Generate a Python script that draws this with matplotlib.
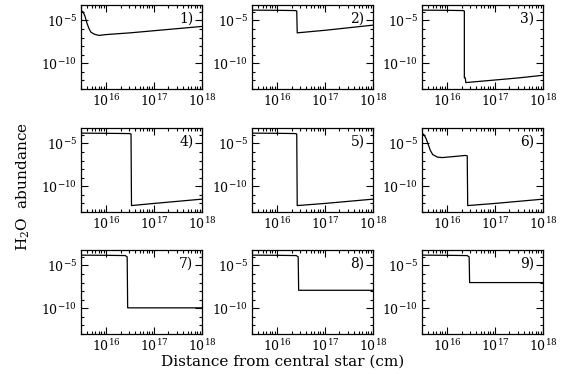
import numpy as np
import matplotlib
matplotlib.use("Agg")
import matplotlib.pyplot as plt
from matplotlib.ticker import FixedLocator, LogLocator, NullFormatter

plt.rcParams['font.family'] = ['DejaVu Serif']
plt.rcParams['mathtext.fontset'] = 'dejavuserif'

# log10 of distance (cm) and log10 of H2O abundance
x1 = [15.48, 15.52, 15.56, 15.60, 15.64, 15.68, 15.75, 15.85, 16.0, 16.5, 17.0, 17.5, 18.0]
y1 = [-3.85, -4.0, -4.5, -5.3, -5.9, -6.35, -6.6, -6.75, -6.65, -6.45, -6.2, -5.95, -5.7]

x2 = [15.48, 16.0, 16.38, 16.41, 16.42, 17.0, 17.5, 18.0]
y2 = [-3.8, -3.82, -3.85, -3.9, -6.45, -6.15, -5.85, -5.55]

x3 = [15.48, 16.0, 16.33, 16.36, 16.36, 16.38, 16.39, 17.0, 17.5, 18.0]
y3 = [-3.8, -3.82, -3.85, -3.9, -11.7, -11.7, -12.25, -11.95, -11.7, -11.4]

x4 = [15.48, 16.0, 16.49, 16.52, 16.53, 17.0, 17.5, 18.0]
y4 = [-3.8, -3.82, -3.85, -3.9, -12.25, -12.0, -11.75, -11.5]

x5 = [15.48, 16.0, 16.38, 16.41, 16.42, 17.0, 17.5, 18.0]
y5 = [-3.8, -3.82, -3.85, -3.9, -12.25, -12.0, -11.75, -11.5]

x6 = [15.48, 15.52, 15.56, 15.60, 15.65, 15.70, 15.80, 15.90, 16.0, 16.2, 16.38, 16.42, 16.43, 17.0, 17.5, 18.0]
y6 = [-3.8, -4.0, -4.4, -5.0, -5.8, -6.3, -6.6, -6.65, -6.6, -6.5, -6.4, -6.45, -12.25, -12.0, -11.75, -11.5]

x7 = [15.48, 16.0, 16.40, 16.44, 16.45, 18.0]
y7 = [-3.8, -3.82, -3.85, -4.0, -9.95, -9.95]

x8 = [15.48, 16.0, 16.40, 16.44, 16.45, 18.0]
y8 = [-3.8, -3.82, -3.85, -4.0, -7.9, -7.9]

x9 = [15.48, 16.0, 16.42, 16.46, 16.47, 18.0]
y9 = [-3.8, -3.82, -3.85, -4.0, -7.0, -7.0]

panels = [(x1, y1), (x2, y2), (x3, y3), (x4, y4), (x5, y5), (x6, y6),
          (x7, y7), (x8, y8), (x9, y9)]
labels = ["1)", "2)", "3)", "4)", "5)", "6)", "7)", "8)", "9)"]

xticks = [1e16, 1e17, 1e18]
xticklabels = [r"$10^{16}$", r"$10^{17}$", r"$10^{18}$"]
yticks = [1e-10, 1e-5]
yticklabels = [r"$10^{-10}$", r"$10^{-5}$"]

W, H = 565, 374
fig = plt.figure(figsize=(W / 100, H / 100), dpi=100)

lefts = [81, 252, 422]
tops = [5, 128, 250]
aw, ah = 121, 84

for i, (xs, ys) in enumerate(panels):
    r, c = divmod(i, 3)
    ax = fig.add_axes([lefts[c] / W, (H - tops[r] - ah) / H, aw / W, ah / H])
    ax.plot(10 ** np.array(xs), 10 ** np.array(ys), color='black', lw=0.9)
    ax.set_xscale('log')
    ax.set_yscale('log')
    ax.set_xlim(3e15, 1e18)
    ax.set_ylim(1e-13, 10 ** -3.2)
    ax.xaxis.set_major_locator(FixedLocator(xticks))
    ax.set_xticklabels(xticklabels, fontsize=9)
    ax.xaxis.set_minor_locator(LogLocator(base=10, subs=np.arange(2, 10)))
    ax.xaxis.set_minor_formatter(NullFormatter())
    ax.yaxis.set_major_locator(FixedLocator(yticks))
    ax.set_yticklabels(yticklabels, fontsize=9)
    ax.yaxis.set_minor_locator(FixedLocator([10.0 ** k for k in range(-13, -2)]))
    ax.yaxis.set_minor_formatter(NullFormatter())
    ax.tick_params(which='both', direction='in', top=True, right=True, width=0.8)
    ax.tick_params(which='major', length=5, pad=3)
    ax.tick_params(which='minor', length=2.5)
    for s in ax.spines.values():
        s.set_linewidth(0.9)
    ax.text(0.93, 0.84, labels[i], transform=ax.transAxes, ha='right', va='center', fontsize=10)

fig.text(0.5, 0.032, "Distance from central star (cm)", ha='center', va='center', fontsize=11)
fig.text(0.042, 0.5, r"H$_2$O  abundance", ha='center', va='center', rotation=90, fontsize=11)

fig.savefig("out.png", dpi=100)
